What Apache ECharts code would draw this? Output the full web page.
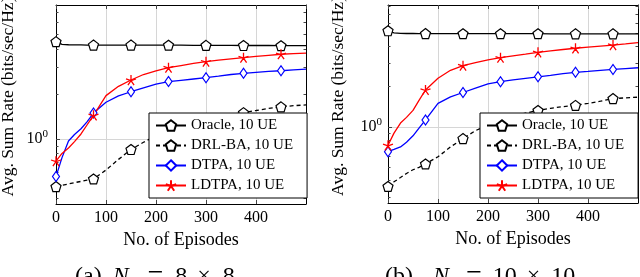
<!DOCTYPE html>
<html><head><meta charset="utf-8">
<script src="https://cdn.jsdelivr.net/npm/echarts@6/dist/echarts.min.js"></script>
<style>html,body{margin:0;padding:0;background:#fff}#c{width:640px;height:277px}</style>
</head><body><div id="c"></div>
<script>
// ---- data ----
const episodes = [0,12,25,37,50,62,75,100,125,150,175,200,225,250,275,300,325,350,375,400,425,450,475,500];
const markerEvery = 75;
const seriesNames = ['Oracle, 10 UE','DRL-BA, 10 UE','DTPA, 10 UE','LDTPA, 10 UE'];

// (a) Nt = 8 x 8
const oracleA = [4.48,4.30,4.27,4.26,4.26,4.25,4.25,4.25,4.25,4.25,4.24,4.24,4.24,4.24,4.23,4.23,4.23,4.23,4.22,4.22,4.22,4.21,4.21,4.21];
const drlA    = [0.48,0.49,0.50,0.51,0.52,0.53,0.54,0.62,0.73,0.85,0.95,1.05,1.15,1.22,1.30,1.36,1.41,1.46,1.50,1.55,1.60,1.64,1.67,1.69];
const dtpaA   = [0.56,0.75,0.97,1.07,1.17,1.30,1.49,1.76,1.94,2.07,2.20,2.33,2.42,2.47,2.52,2.57,2.63,2.70,2.75,2.79,2.83,2.86,2.90,2.93];
const ldtpaA  = [0.71,0.80,0.87,0.96,1.08,1.24,1.44,1.95,2.25,2.48,2.70,2.85,3.00,3.10,3.20,3.29,3.37,3.44,3.50,3.57,3.63,3.69,3.72,3.75];

// (b) Nt = 10 x 10
const oracleB = [5.23,5.05,5.00,4.99,4.99,4.98,4.98,4.98,4.97,4.97,4.97,4.97,4.97,4.97,4.97,4.97,4.96,4.96,4.96,4.96,4.96,4.96,4.95,4.95];
const drlB    = [0.36,0.39,0.42,0.45,0.48,0.50,0.53,0.60,0.71,0.82,0.94,1.03,1.12,1.20,1.27,1.33,1.38,1.42,1.45,1.50,1.56,1.63,1.65,1.67];
const dtpaB   = [0.654,0.68,0.71,0.77,0.86,0.98,1.13,1.50,1.68,1.81,1.95,2.10,2.18,2.25,2.31,2.37,2.43,2.50,2.56,2.60,2.65,2.69,2.73,2.77];
const ldtpaB  = [0.73,0.90,1.07,1.18,1.33,1.58,1.89,2.31,2.65,2.87,3.02,3.17,3.29,3.40,3.50,3.61,3.70,3.79,3.87,3.95,4.02,4.09,4.17,4.26];

const yRangeA = [0.367, 7.88];
const yRangeB = [0.271, 8.14];
const minorTickValues = [0.3,0.4,0.5,0.6,0.7,0.8,0.9,2,3,4,5,6,7,8];
const captionA = '{a|(a)}{i|N}{s|t}{e|=}{d|8}{x|×}{d|8}';
const captionB = '{b|(b)}{i|N}{s|t}{e|=}{d|10}{x|×}{d|10}';

// ---- styling / layout ----
const FF = 'Liberation Serif';
const grids = [
  {left:56, top:5, width:250, height:199, containLabel:false, outerBoundsMode:'none'},
  {left:388, top:5, width:250, height:198, containLabel:false, outerBoundsMode:'none'}
];
const pentagon = 'path://M0,-1L0.951,-0.309L0.588,0.809L-0.588,0.809L-0.951,-0.309Z';
const star = 'path://M0,0L0,-1M0,0L0.951,-0.309M0,0L0.588,0.809M0,0L-0.588,0.809M0,0L-0.951,-0.309';
const styles = [
  {symbol: pentagon, symbolSize: 10, lineStyle:{color:'#000', width:1.3}, itemStyle:{color:'#fff', borderColor:'#000', borderWidth:1.2}},
  {symbol: pentagon, symbolSize: 10, lineStyle:{color:'#000', width:1.3, type:[4,3]}, itemStyle:{color:'#fff', borderColor:'#000', borderWidth:1.2}},
  {symbol: 'diamond', symbolSize: [7,10], lineStyle:{color:'#0000ff', width:1.3}, itemStyle:{color:'#fff', borderColor:'#0000ff', borderWidth:1.2}},
  {symbol: star, symbolSize: 10, lineStyle:{color:'#ff0000', width:1.3}, itemStyle:{color:'#ff0000', borderColor:'#ff0000', borderWidth:1.3}}
];

const xAxes = [], yAxes = [], series = [], legends = [], titles = [];
const gridColor = '#d6d6d6';
const tickColor = '#444';

[yRangeA, yRangeB].forEach((yr, gi) => {
  xAxes.push({gridIndex:gi, type:'value', min:0, max:500, interval:100, position:'bottom',
    axisLine:{onZero:false, lineStyle:{color:'#000', width:1}},
    axisTick:{inside:true, length:4, lineStyle:{color:tickColor}},
    axisLabel:{margin:6, fontFamily:FF, fontSize:16, color:'#000', showMaxLabel:false},
    splitLine:{show:false},
    name:'No. of Episodes', nameLocation:'middle', nameGap:22,
    nameTextStyle:{fontFamily:FF, fontSize:18, color:'#000'}, z:3});
  xAxes.push({gridIndex:gi, type:'value', min:0, max:500, interval:100, position:'top',
    axisLine:{onZero:false, lineStyle:{color:'#000', width:1}},
    axisTick:{inside:true, length:4, lineStyle:{color:tickColor}},
    axisLabel:{show:false}, splitLine:{show:false}, z:3});
  xAxes.push({gridIndex:gi, type:'value', min:0, max:500, interval:100,
    axisLine:{show:false, onZero:false}, axisTick:{show:false}, axisLabel:{show:false},
    splitLine:{show:true, lineStyle:{color:gridColor, width:1}}, z:0});

  yAxes.push({gridIndex:gi, type:'log', logBase:10, min:yr[0], max:yr[1], position:'left',
    axisLine:{onZero:false, lineStyle:{color:'#000', width:1}},
    axisTick:{inside:true, length:4, lineStyle:{color:tickColor}},
    axisLabel:{margin: gi===0 ? 8 : 6, showMinLabel:false, showMaxLabel:false,
      formatter: v => Math.abs(v-1) < 1e-6 ? '{b|10}{s|0}' : '',
      rich:{b:{fontFamily:FF, fontSize:16, color:'#000'}, s:{fontFamily:FF, fontSize:11, color:'#000', padding:[0,0,10,0]}}},
    splitLine:{show:true, lineStyle:{color:gridColor, width:1}},
    name:'Avg. Sum Rate (bits/sec/Hz)', nameLocation:'middle', nameGap: gi===0 ? 38.5 : 40.5,
    nameMoveOverlap:false,
    nameTextStyle:{fontFamily:FF, fontSize:17.5, color:'#000', padding:[0,0,0,16]}, z:1});
  yAxes.push({gridIndex:gi, type:'value', min:Math.log10(yr[0]), max:Math.log10(yr[1]), position:'left',
    axisLine:{show:false, onZero:false},
    axisTick:{inside:true, length:2.5, lineStyle:{color:tickColor}, customValues:minorTickValues.map(Math.log10)},
    axisLabel:{show:false}, splitLine:{show:false}, z:3});
  yAxes.push({gridIndex:gi, type:'value', min:Math.log10(yr[0]), max:Math.log10(yr[1]), position:'right',
    axisLine:{show:true, onZero:false, lineStyle:{color:'#000', width:1}},
    axisTick:{inside:true, length:2.5, lineStyle:{color:tickColor}, customValues:minorTickValues.concat([1]).map(Math.log10)},
    axisLabel:{show:false}, splitLine:{show:false}, z:3});

  const vals = gi===0 ? [oracleA, drlA, dtpaA, ldtpaA] : [oracleB, drlB, dtpaB, ldtpaB];
  vals.forEach((arr, si) => {
    const st = styles[si];
    series.push({
      name: seriesNames[si], type:'line', xAxisIndex: gi*3, yAxisIndex: gi*3,
      data: episodes.map((e, i) => (e % markerEvery === 0) ? [e, arr[i]] : {value:[e, arr[i]], symbol:'none'}),
      showAllSymbol:true, symbol: st.symbol, symbolSize: st.symbolSize,
      lineStyle: st.lineStyle, itemStyle: st.itemStyle, z:3, animation:false
    });
  });

  legends.push({orient:'vertical', left: gi===0 ? 149 : 480, top:113, padding:[5,14,5,6],
    itemWidth:30, itemHeight:13, itemGap:5, backgroundColor:'#fff', borderColor:'#000', borderWidth:1,
    textStyle:{fontFamily:FF, fontSize:15, color:'#000'}, data: seriesNames, selectedMode:false, z:5});
});

const capBase = {fontFamily:FF, fontSize:24, color:'#000'};
titles.push({text: captionA, left:75, top:263, padding:0,
  textStyle:{fontFamily:FF, fontSize:24, fontWeight:'normal', color:'#000',
    rich:{a:Object.assign({}, capBase, {padding:[0,11,0,0]}),
          i:Object.assign({}, capBase, {fontStyle:'italic'}),
          s:Object.assign({}, capBase, {fontSize:14, padding:[10,0,0,0]}),
          e:Object.assign({}, capBase, {fontSize:28, padding:[0,0,0,15]}),
          d:Object.assign({}, capBase, {padding:[0,0,0,12]}),
          x:Object.assign({}, capBase, {padding:[0,0,0,10]})}}});
titles.push({text: captionB, left:385, top:263, padding:0,
  textStyle:{fontFamily:FF, fontSize:24, fontWeight:'normal', color:'#000',
    rich:{b:Object.assign({}, capBase, {padding:[0,20,0,0]}),
          i:Object.assign({}, capBase, {fontStyle:'italic'}),
          s:Object.assign({}, capBase, {fontSize:14, padding:[10,0,0,0]}),
          e:Object.assign({}, capBase, {fontSize:28, padding:[0,0,0,13]}),
          d:Object.assign({}, capBase, {padding:[0,0,0,11]}),
          x:Object.assign({}, capBase, {padding:[0,0,0,10]})}}});

const chart = echarts.init(document.getElementById('c'), null, {renderer:'canvas'});
chart.setOption({
  animation:false, backgroundColor:'#fff',
  title: titles, grid: grids, xAxis: xAxes, yAxis: yAxes, legend: legends, series: series
});
</script></body></html>
